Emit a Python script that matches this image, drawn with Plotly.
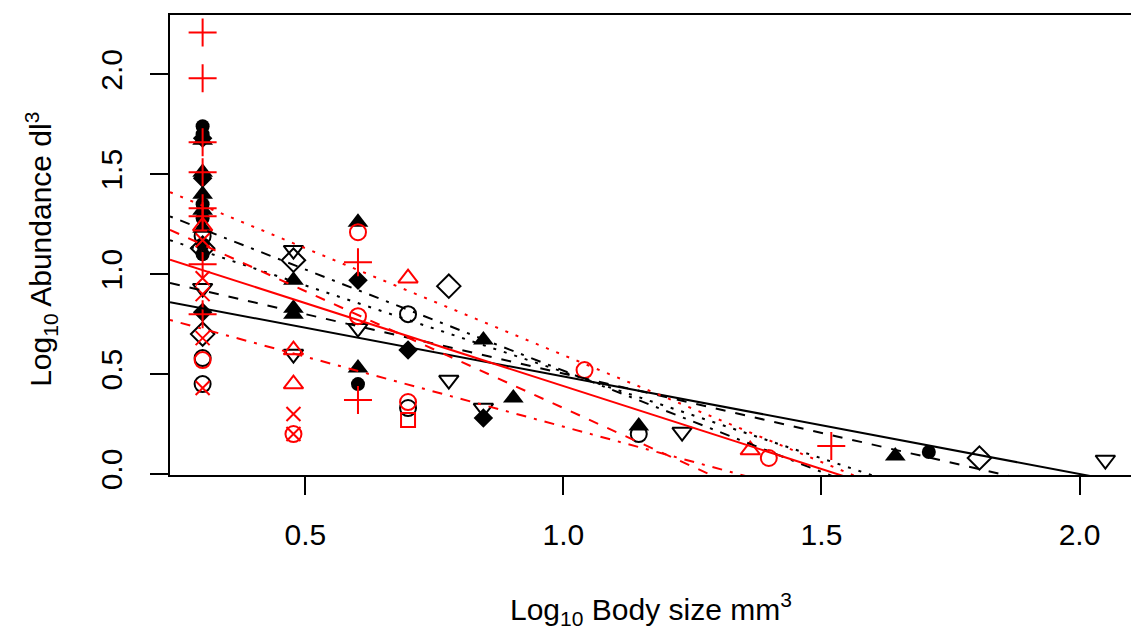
import plotly.graph_objects as go

# Body size (log10 mm^3) and abundance (log10 per dl^3) by point symbol
filled_circle_x = [0.301, 0.301, 0.301, 0.301, 0.301, 0.301, 0.301, 0.602, 1.708]
filled_circle_y = [1.74, 1.70, 1.49, 1.35, 1.28, 1.15, 1.10, 0.45, 0.11]

filled_triangle_x = [0.301, 0.301, 0.301, 0.301, 0.301, 0.477, 0.477, 0.477,
                     0.602, 0.602, 0.845, 0.903, 1.146, 1.643]
filled_triangle_y = [1.67, 1.51, 1.40, 1.32, 1.23, 0.97, 0.83, 0.80,
                     1.26, 0.53, 0.67, 0.38, 0.24, 0.09]

filled_diamond_x = [0.301, 0.301, 0.301, 0.602, 0.699, 0.845]
filled_diamond_y = [1.68, 1.48, 0.81, 0.97, 0.62, 0.28]

open_diamond_x = [0.301, 0.301, 0.477, 0.778, 1.806]
open_diamond_y = [1.13, 0.70, 1.07, 0.94, 0.08]

open_down_triangle_x = [0.301, 0.477, 0.477, 0.602, 0.778, 0.845, 1.230, 2.050]
open_down_triangle_y = [0.93, 1.12, 0.60, 0.73, 0.47, 0.33, 0.21, 0.07]

open_circle_x = [0.301, 0.301, 0.301, 0.699, 0.699, 1.146]
open_circle_y = [1.19, 0.58, 0.45, 0.80, 0.33, 0.20]

red_plus_x = [0.301, 0.301, 0.301, 0.301, 0.301, 0.301, 0.301, 0.301,
              0.602, 0.602, 1.519]
red_plus_y = [2.21, 1.98, 1.66, 1.51, 1.33, 1.29, 1.05, 0.80,
              1.06, 0.37, 0.14]

red_cross_x = [0.301, 0.301, 0.301, 0.301, 0.301, 0.477, 0.477]
red_cross_y = [1.17, 0.98, 0.90, 0.68, 0.43, 0.30, 0.20]

red_triangle_x = [0.301, 0.477, 0.477, 0.699, 1.362]
red_triangle_y = [1.24, 0.62, 0.45, 0.98, 0.12]

red_square_x = [0.699]
red_square_y = [0.27]

red_circle_x = [0.301, 0.477, 0.602, 0.602, 0.699, 1.041, 1.398]
red_circle_y = [0.57, 0.20, 1.21, 0.79, 0.36, 0.52, 0.08]

# Fitted regression lines: intercept and slope per group
line_intercepts = [0.976, 1.097, 1.376, 1.530, 1.270, 1.500, 1.665, 0.937]
line_slopes = [-0.488, -0.594, -0.865, -1.013, -0.830, -1.170, -1.070, -0.700]

# Axis ranges and ticks
x_range = [0.2378, 2.0997]
y_range = [-0.005, 2.297]
x_ticks = [0.5, 1.0, 1.5, 2.0]
y_ticks = [0.0, 0.5, 1.0, 1.5, 2.0]

BLACK = "#000000"
RED = "#ff0000"

line_colors = [BLACK] * 4 + [RED] * 4
line_dashes = ["solid", "10px,10px", "3px,8px", "3px,8px,10px,8px"] * 2

fig = go.Figure()


def add_points(xs, ys, symbol, color, size=15, lw=2):
    fig.add_trace(go.Scatter(
        x=xs, y=ys, mode="markers",
        marker=dict(symbol=symbol, color=color, size=size,
                    line=dict(color=color, width=lw)),
        hoverinfo="skip", showlegend=False,
    ))


add_points(filled_circle_x, filled_circle_y, "circle", BLACK, size=14, lw=0)
add_points(filled_triangle_x, filled_triangle_y, "triangle-up", BLACK, size=18, lw=0)
add_points(filled_diamond_x, filled_diamond_y, "diamond", BLACK, size=15, lw=0)
add_points(open_diamond_x, open_diamond_y, "diamond-open", BLACK, size=18)
add_points(open_down_triangle_x, open_down_triangle_y, "triangle-down-open", BLACK, size=17)
add_points(open_circle_x, open_circle_y, "circle-open", BLACK, size=16)
add_points(red_plus_x, red_plus_y, "cross-thin-open", RED, size=20)
add_points(red_cross_x, red_cross_y, "x-thin-open", RED, size=14)
add_points(red_triangle_x, red_triangle_y, "triangle-up-open", RED, size=17)
add_points(red_square_x, red_square_y, "square-open", RED, size=14)
add_points(red_circle_x, red_circle_y, "circle-open", RED, size=16)

# Regression lines span the full plotting region (clipped to the frame)
for a, b, c, d in zip(line_intercepts, line_slopes, line_colors, line_dashes):
    fig.add_trace(go.Scatter(
        x=x_range, y=[a + b * x_range[0], a + b * x_range[1]],
        mode="lines", line=dict(color=c, width=2, dash=d),
        hoverinfo="skip", showlegend=False,
    ))

FONT = "Liberation Sans, Arial, sans-serif"

fig.update_layout(
    width=1131, height=631,
    margin=dict(l=170, r=0, t=15, b=156),
    paper_bgcolor="white", plot_bgcolor="white",
    font=dict(family=FONT, color=BLACK, size=30),
    xaxis=dict(
        range=x_range, tickvals=x_ticks, ticktext=[f"{v:.1f}" for v in x_ticks],
        showgrid=False, zeroline=False,
        showline=True, linecolor=BLACK, linewidth=2, mirror=True,
        ticks="outside", ticklen=18, tickwidth=2, tickcolor=BLACK,
        tickfont=dict(size=30), ticklabelstandoff=14,
    ),
    yaxis=dict(
        range=y_range, tickvals=y_ticks, ticktext=[f"{v:.1f}" for v in y_ticks],
        showgrid=False, zeroline=False,
        showline=True, linecolor=BLACK, linewidth=2, mirror=False,
        ticks="outside", ticklen=18, tickwidth=2, tickcolor=BLACK,
        tickfont=dict(size=30), tickangle=-90, ticklabelstandoff=16,
    ),
    annotations=[
        dict(text="Log<sub>10</sub> Body size mm<sup>3</sup>",
             xref="paper", yref="paper", x=0.5, y=-0.292,
             xanchor="center", yanchor="middle", showarrow=False,
             font=dict(size=30, family=FONT)),
        dict(text="Log<sub>10</sub> Abundance dl<sup>3</sup>",
             xref="paper", yref="paper", x=-0.135, y=0.49,
             xanchor="center", yanchor="middle", showarrow=False,
             textangle=-90, font=dict(size=30, family=FONT)),
    ],
)

fig.write_html("out.html")
